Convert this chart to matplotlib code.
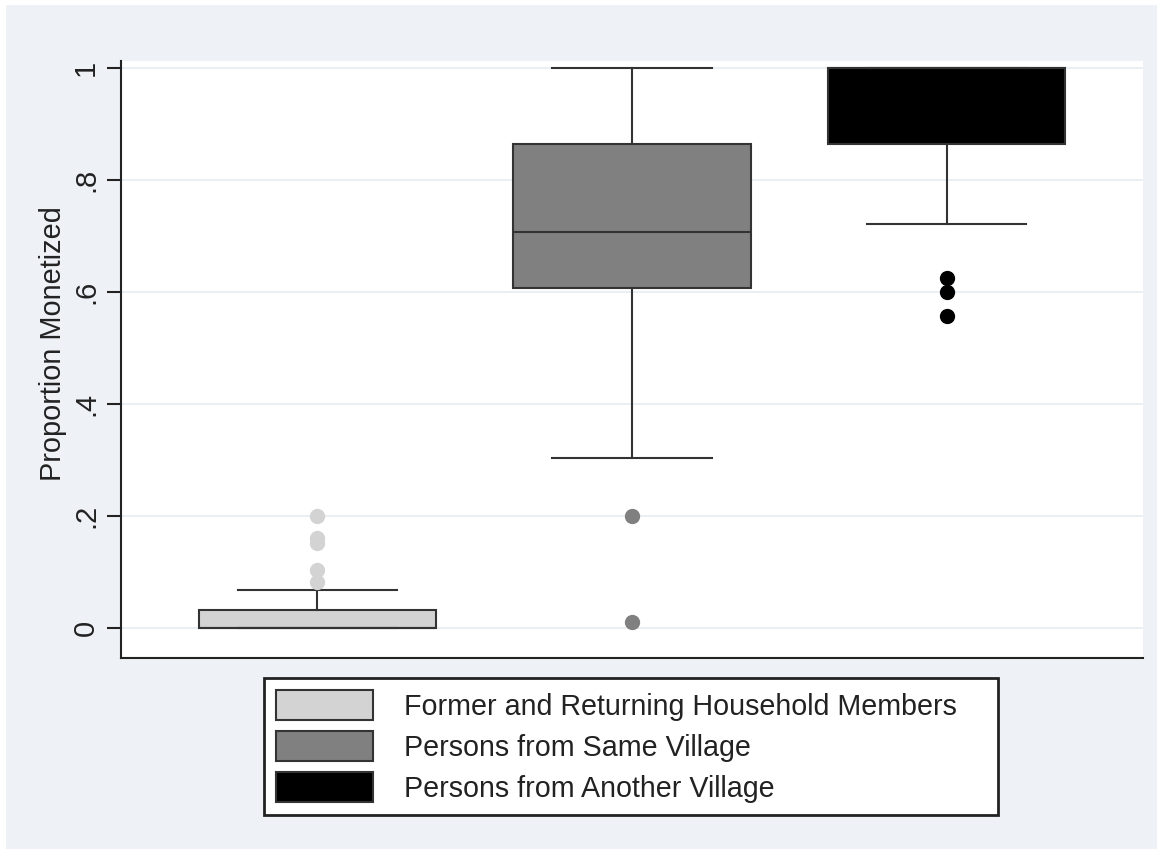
import matplotlib
matplotlib.use("Agg")
import matplotlib.pyplot as plt
from matplotlib.patches import Patch, Rectangle

plt.rcParams['font.family'] = ['Liberation Sans', 'DejaVu Sans']

groups = ["Former and Returning Household Members",
          "Persons from Same Village",
          "Persons from Another Village"]
colors = ["#d3d3d3", "#808080", "#000000"]

q1 = [0.0, 0.607, 0.864]
med = [0.0, 0.707, 1.0]
q3 = [0.032, 0.864, 1.0]
whislo = [0.0, 0.304, 0.721]
whishi = [0.068, 1.0, 1.0]
fliers = [[0.2, 0.16, 0.152, 0.104, 0.082],
          [0.2, 0.011],
          [0.625, 0.6, 0.557]]

bg = "#eef2f6"
edge = "#333333"
W, H = 1163, 850

fig = plt.figure(figsize=(11.63, 8.5), dpi=100, facecolor="white")
# outer graph region (thin white margin around it)
fig.patches.append(Rectangle((6 / W, 1 / H), 1151 / W, 844 / H,
                             transform=fig.transFigure, facecolor=bg,
                             edgecolor="none", zorder=-2))

ax = fig.add_axes([121 / W, 1 - 658 / H, 1022 / W, 597 / H])
ax.set_facecolor("white")

stats = []
for i in range(3):
    stats.append(dict(q1=q1[i], med=med[i], q3=q3[i], whislo=whislo[i],
                      whishi=whishi[i], fliers=fliers[i], label=groups[i]))

bp = ax.bxp(stats, positions=[1, 2, 3], widths=0.755, patch_artist=True,
            showfliers=True,
            boxprops=dict(edgecolor=edge, linewidth=1.5),
            medianprops=dict(color=edge, linewidth=1.5),
            whiskerprops=dict(color=edge, linewidth=1.5),
            capprops=dict(color=edge, linewidth=1.5),
            capwidths=0.506)
for i, box in enumerate(bp["boxes"]):
    box.set_facecolor(colors[i])
for i, fl in enumerate(bp["fliers"]):
    fl.set(marker="o", markersize=10, markerfacecolor=colors[i],
           markeredgecolor=colors[i])

ax.set_xlim(0.376, 3.624)
ax.set_ylim(-0.0536, 1.0125)
ax.set_xticks([])
ax.set_yticks([0, 0.2, 0.4, 0.6, 0.8, 1.0])
ax.set_yticklabels(["0", ".2", ".4", ".6", ".8", "1"], rotation=90,
                   va="center", fontsize=21)
ax.tick_params(axis="y", length=10, width=1.5, color="#222222", pad=5,
               labelcolor="#222222")
ax.grid(axis="y", color="#eaeff4", linewidth=1.5)
ax.set_axisbelow(True)
for s in ["top", "right"]:
    ax.spines[s].set_visible(False)
for s in ["left", "bottom"]:
    ax.spines[s].set_linewidth(1.5)
    ax.spines[s].set_color("#222222")
ax.set_ylabel("Proportion Monetized", fontsize=20.8, color="#222222")
ax.yaxis.set_label_coords(-0.053, (658 - 344) / 597)

# legend frame drawn as a figure rectangle
fig.patches.append(Rectangle((264 / W, 1 - 815 / H), 734 / W, 137 / H,
                             transform=fig.transFigure, facecolor="white",
                             edgecolor="#222222", linewidth=2, zorder=1))
handles = [Patch(facecolor=c, edgecolor=edge, linewidth=1.5) for c in colors]
leg = fig.legend(handles, groups, loc="upper left",
                 bbox_to_anchor=(276 / W, 1 - 690 / H),
                 fontsize=20.6, frameon=False,
                 handlelength=3.38, handleheight=1.25,
                 labelspacing=0.36, borderpad=0, handletextpad=1.1,
                 borderaxespad=0, labelcolor="#222222")
leg.set_zorder(5)

fig.savefig("out.png", dpi=100)
